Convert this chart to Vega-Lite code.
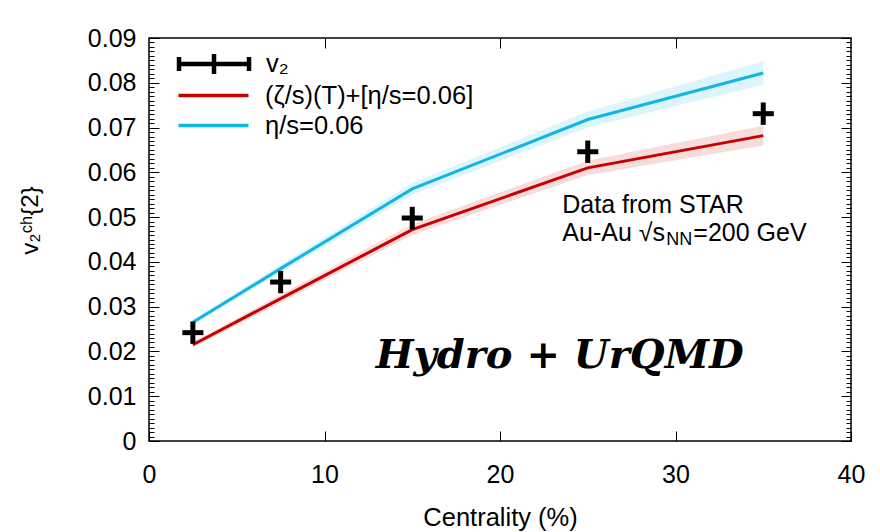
{
  "$schema": "https://vega.github.io/schema/vega-lite/v6.json",
  "width": 702,
  "height": 403,
  "autosize": {"type": "none"},
  "padding": {"left": 149, "top": 38, "right": 29, "bottom": 91},
  "background": "white",
  "config": {
    "font": "Liberation Sans",
    "view": {"stroke": "black", "strokeWidth": 1.5},
    "axis": {"domain": false, "grid": false, "tickColor": "black", "tickWidth": 1, "labelColor": "black", "titleColor": "black", "labelFont": "Liberation Sans", "titleFont": "Liberation Sans", "labelFontSize": 25, "titleFontSize": 25.5, "titleFontWeight": "normal"},
    "legend": {"labelFont": "Liberation Sans", "labelFontSize": 25.5, "labelColor": "black", "labelLimit": 0, "symbolSize": 544, "labelOffset": 38, "padding": 0, "rowPadding": 3, "titleFontSize": 0}
  },
  "datasets": {
    "curves": [
      {"series": "(ζ/s)(T)+[η/s=0.06]", "centrality": 2.5, "v2": 0.0215, "lo": 0.0209, "hi": 0.0221},
      {"series": "(ζ/s)(T)+[η/s=0.06]", "centrality": 7.5, "v2": 0.0318, "lo": 0.0309, "hi": 0.0327},
      {"series": "(ζ/s)(T)+[η/s=0.06]", "centrality": 15, "v2": 0.0472, "lo": 0.046, "hi": 0.0484},
      {"series": "(ζ/s)(T)+[η/s=0.06]", "centrality": 25, "v2": 0.061, "lo": 0.0594, "hi": 0.0626},
      {"series": "(ζ/s)(T)+[η/s=0.06]", "centrality": 35, "v2": 0.0682, "lo": 0.066, "hi": 0.0704},
      {"series": "η/s=0.06", "centrality": 2.5, "v2": 0.0265, "lo": 0.0259, "hi": 0.0271},
      {"series": "η/s=0.06", "centrality": 7.5, "v2": 0.0385, "lo": 0.0376, "hi": 0.0394},
      {"series": "η/s=0.06", "centrality": 15, "v2": 0.0563, "lo": 0.055, "hi": 0.0576},
      {"series": "η/s=0.06", "centrality": 25, "v2": 0.0718, "lo": 0.07, "hi": 0.0736},
      {"series": "η/s=0.06", "centrality": 35, "v2": 0.0822, "lo": 0.0796, "hi": 0.0848}
    ],
    "star": [
      {"label": "v₂", "centrality": 2.5, "xlo": 1.9, "xhi": 3.1, "v2": 0.0242, "ylo": 0.0217, "yhi": 0.0267},
      {"label": "v₂", "centrality": 7.5, "xlo": 6.9, "xhi": 8.1, "v2": 0.0355, "ylo": 0.033, "yhi": 0.038},
      {"label": "v₂", "centrality": 15, "xlo": 14.4, "xhi": 15.6, "v2": 0.0498, "ylo": 0.0473, "yhi": 0.0523},
      {"label": "v₂", "centrality": 25, "xlo": 24.4, "xhi": 25.6, "v2": 0.0646, "ylo": 0.0621, "yhi": 0.0671},
      {"label": "v₂", "centrality": 35, "xlo": 34.4, "xhi": 35.6, "v2": 0.0731, "ylo": 0.0706, "yhi": 0.0756}
    ]
  },
  "layer": [
    {
      "data": {"name": "curves"},
      "transform": [{"filter": "datum.series == '(ζ/s)(T)+[η/s=0.06]'"}],
      "mark": {"type": "area", "color": "#f7dcdc"},
      "encoding": {
        "x": {"field": "centrality", "type": "quantitative", "scale": {"domain": [0, 40], "nice": false, "zero": false},
          "axis": {"orient": "bottom", "values": [0, 10, 20, 30, 40], "tickSize": -10, "labelPadding": 31, "format": "d", "title": "Centrality (%)", "titleX": 351, "titleY": 76, "titleAnchor": "middle", "titleBaseline": "middle", "titleAlign": "center", "labelFlush": false}},
        "y": {"field": "lo", "type": "quantitative", "scale": {"domain": [0, 0.09], "nice": false, "zero": false},
          "axis": {"orient": "left",
            "values": [0,0.001,0.002,0.003,0.004,0.005,0.006,0.007,0.008,0.009,0.01,0.011,0.012,0.013,0.014,0.015,0.016,0.017,0.018,0.019,0.02,0.021,0.022,0.023,0.024,0.025,0.026,0.027,0.028,0.029,0.03,0.031,0.032,0.033,0.034,0.035,0.036,0.037,0.038,0.039,0.04,0.041,0.042,0.043,0.044,0.045,0.046,0.047,0.048,0.049,0.05,0.051,0.052,0.053,0.054,0.055,0.056,0.057,0.058,0.059,0.06,0.061,0.062,0.063,0.064,0.065,0.066,0.067,0.068,0.069,0.07,0.071,0.072,0.073,0.074,0.075,0.076,0.077,0.078,0.079,0.08,0.081,0.082,0.083,0.084,0.085,0.086,0.087,0.088,0.089,0.09],
            "tickSize": {"condition": {"test": "abs(datum.value*100 - round(datum.value*100)) < 0.000001", "value": -10}, "value": -5},
            "labelExpr": "abs(datum.value*100 - round(datum.value*100)) < 0.000001 ? format(datum.value, '.2~f') : ''",
            "labelOverlap": false, "labelPadding": 23, "labelFlush": false, "labelBaseline": "middle",
            "title": "v₂ᶜʰ{2}", "titleX": -119, "titleY": 182, "titleAngle": -90, "titleAnchor": "middle", "titleAlign": "center", "titleBaseline": "middle", "titleFontSize": 24}},
        "y2": {"field": "hi"}
      }
    },
    {
      "data": {"name": "curves"},
      "transform": [{"filter": "datum.series == 'η/s=0.06'"}],
      "mark": {"type": "area", "color": "#dcf4fb"},
      "encoding": {
        "x": {"field": "centrality", "type": "quantitative", "axis": null},
        "y": {"field": "lo", "type": "quantitative", "axis": null},
        "y2": {"field": "hi"}
      }
    },
    {
      "data": {"name": "curves"},
      "mark": {"type": "line", "strokeWidth": 3},
      "encoding": {
        "x": {"field": "centrality", "type": "quantitative",
          "axis": {"orient": "top", "values": [10, 20, 30], "tickSize": -10, "labels": false, "title": null}},
        "y": {"field": "v2", "type": "quantitative",
          "axis": {"orient": "right",
            "values": [0,0.001,0.002,0.003,0.004,0.005,0.006,0.007,0.008,0.009,0.01,0.011,0.012,0.013,0.014,0.015,0.016,0.017,0.018,0.019,0.02,0.021,0.022,0.023,0.024,0.025,0.026,0.027,0.028,0.029,0.03,0.031,0.032,0.033,0.034,0.035,0.036,0.037,0.038,0.039,0.04,0.041,0.042,0.043,0.044,0.045,0.046,0.047,0.048,0.049,0.05,0.051,0.052,0.053,0.054,0.055,0.056,0.057,0.058,0.059,0.06,0.061,0.062,0.063,0.064,0.065,0.066,0.067,0.068,0.069,0.07,0.071,0.072,0.073,0.074,0.075,0.076,0.077,0.078,0.079,0.08,0.081,0.082,0.083,0.084,0.085,0.086,0.087,0.088,0.089,0.09],
            "tickSize": {"condition": {"test": "abs(datum.value*100 - round(datum.value*100)) < 0.000001", "value": -10}, "value": -5},
            "labels": false, "title": null}},
        "stroke": {"field": "series", "type": "nominal", "scale": {"domain": ["(ζ/s)(T)+[η/s=0.06]", "η/s=0.06"], "range": ["#c80000", "#12b5e2"]},
          "legend": {"orient": "none", "legendX": 51, "legendY": 44, "title": null, "symbolType": "M-3,0H3", "symbolStrokeWidth": 3.5}}
      }
    },
    {
      "data": {"name": "star"},
      "mark": {"type": "rule", "strokeWidth": 5},
      "encoding": {
        "x": {"field": "xlo", "type": "quantitative", "axis": null},
        "x2": {"field": "xhi"},
        "y": {"field": "v2", "type": "quantitative", "axis": null},
        "color": {"field": "label", "type": "nominal", "scale": {"range": ["black"]},
          "legend": {"orient": "none", "legendX": 51, "legendY": 12, "title": null, "symbolType": "M-3,0H3M-3,-0.6V0.6M3,-0.6V0.6M0,-0.85V0.85", "symbolStrokeWidth": 4.5}}
      }
    },
    {
      "data": {"name": "star"},
      "mark": {"type": "rule", "strokeWidth": 5},
      "encoding": {
        "x": {"field": "centrality", "type": "quantitative", "axis": null},
        "y": {"field": "ylo", "type": "quantitative", "axis": null},
        "y2": {"field": "yhi"},
        "color": {"field": "label", "type": "nominal"}
      }
    },
    {
      "data": {"values": [{"note": "Data from STAR"}]},
      "mark": {"type": "text", "align": "left", "baseline": "middle", "fontSize": 25, "font": "Liberation Sans", "color": "black"},
      "encoding": {"x": {"datum": 23.55, "type": "quantitative", "axis": null}, "y": {"datum": 0.0527, "type": "quantitative", "axis": null}, "text": {"field": "note"}}
    },
    {
      "data": {"values": [{"note": "Au-Au √s"}]},
      "mark": {"type": "text", "align": "left", "baseline": "middle", "fontSize": 25, "font": "Liberation Sans", "color": "black"},
      "encoding": {"x": {"datum": 23.55, "type": "quantitative", "axis": null}, "y": {"datum": 0.0465, "type": "quantitative", "axis": null}, "text": {"field": "note"}}
    },
    {
      "data": {"values": [{"note": "NN"}]},
      "mark": {"type": "text", "align": "left", "baseline": "middle", "fontSize": 18, "font": "Liberation Sans", "color": "black", "dx": 104, "dy": 7},
      "encoding": {"x": {"datum": 23.55, "type": "quantitative", "axis": null}, "y": {"datum": 0.0465, "type": "quantitative", "axis": null}, "text": {"field": "note"}}
    },
    {
      "data": {"values": [{"note": "=200 GeV"}]},
      "mark": {"type": "text", "align": "left", "baseline": "middle", "fontSize": 25, "font": "Liberation Sans", "color": "black", "dx": 131},
      "encoding": {"x": {"datum": 23.55, "type": "quantitative", "axis": null}, "y": {"datum": 0.0465, "type": "quantitative", "axis": null}, "text": {"field": "note"}}
    },
    {
      "data": {"values": [{"note": "Hydro + UrQMD"}]},
      "mark": {"type": "text", "align": "center", "baseline": "middle", "fontSize": 40, "font": "DejaVu Serif", "fontStyle": "italic", "fontWeight": "bold", "color": "black"},
      "encoding": {"x": {"datum": 23.4, "type": "quantitative", "axis": null}, "y": {"datum": 0.019, "type": "quantitative", "axis": null}, "text": {"field": "note"}}
    }
  ],
  "resolve": {"axis": {"x": "independent", "y": "independent"}}
}
